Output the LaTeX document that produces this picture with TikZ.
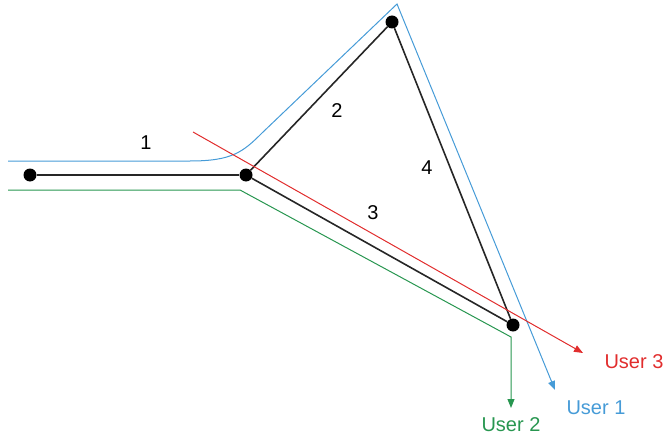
\documentclass[tikz,border=0pt]{standalone}
\usepackage{fontspec}
\setmainfont{Liberation Sans}
\usetikzlibrary{arrows.meta}

\definecolor{routeblue}{RGB}{70,155,215}
\definecolor{routegreen}{RGB}{40,150,80}
\definecolor{routered}{RGB}{225,45,45}

\newcommand*{\rad}{6.5pt}

\begin{document}
\begin{tikzpicture}[x=1pt,y=-1pt,
	dot/.style={circle,fill=black,inner sep=0pt,minimum size=2*\rad},
	link/.style={line width=1.6pt,black!85},
	route/.style={line width=1pt,-{Triangle[length=9pt,width=7pt]}},
	lbl/.style={font=\fontsize{20}{22}\selectfont}]

	\useasboundingbox (0,0) rectangle (663,441);

	% routers
	\node[dot] (a) at (30,175) {};
	\node[dot] (b) at (246,175) {};
	\node[dot] (c) at (392,22) {};
	\node[dot] (d) at (513,325) {};

	% links
	\draw[link] (a) -- (b);
	\draw[link] (b) -- (c);
	\draw[link] (b) -- (d);
	\draw[link] (c) -- (d);

	\node[lbl] (n1) at (146,143) {1};
	\node[lbl] (n2) at (337,111) {2};
	\node[lbl] (n3) at (373,213) {3};
	\node[lbl] (n4) at (427,168) {4};

	% routes
	\coordinate (s1) at (8,161);
	\coordinate (e1) at (555,390);
	\draw[route,routeblue] (s1) -- (190,161) .. controls (232,161) and (243,152) .. (262,133) -- (397,4) -- (e1);

	\coordinate (s2) at (8,190);
	\coordinate (e2) at (511,408);
	\draw[route,routegreen] (s2) -- (240,190) -- (511,337) -- (e2);

	\coordinate (s3) at (193,132);
	\coordinate (e3) at (583,353);
	\draw[route,routered] (s3) -- (e3);

	\node[lbl,routeblue] (u1) at (596,408) {User 1};
	\node[lbl,routegreen] (u2) at (511,425) {User 2};
	\node[lbl,routered] (u3) at (634,362) {User 3};

\end{tikzpicture}
\end{document}
